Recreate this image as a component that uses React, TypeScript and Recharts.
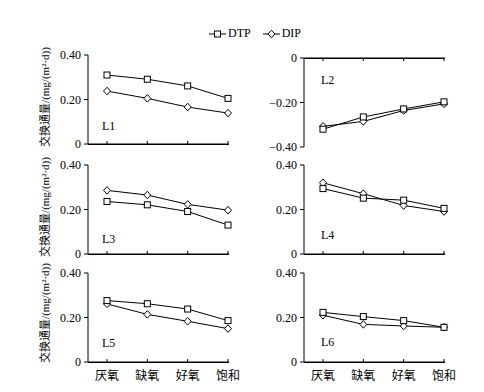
import React from 'react';
import { LineChart, Line, XAxis, YAxis } from 'recharts';

const categories = ['厌氧', '缺氧', '好氧', '饱和'];
const panelNames = ['L1', 'L2', 'L3', 'L4', 'L5', 'L6'];

const dtpL1 = [0.31, 0.291, 0.261, 0.205];
const dipL1 = [0.238, 0.205, 0.166, 0.139];
const dtpL2 = [-0.32, -0.265, -0.229, -0.197];
const dipL2 = [-0.307, -0.285, -0.236, -0.206];
const dtpL3 = [0.236, 0.221, 0.191, 0.13];
const dipL3 = [0.286, 0.265, 0.223, 0.197];
const dtpL4 = [0.294, 0.251, 0.242, 0.205];
const dipL4 = [0.32, 0.271, 0.218, 0.191];
const dtpL5 = [0.276, 0.262, 0.238, 0.186];
const dipL5 = [0.261, 0.214, 0.183, 0.15];
const dtpL6 = [0.223, 0.204, 0.186, 0.156];
const dipL6 = [0.21, 0.169, 0.162, 0.156];

const posTicks = [0, 0.2, 0.4];
const negTicks = [-0.4, -0.2, 0];

const serif = '"Liberation Serif", "Times New Roman", "Noto Sans CJK SC", serif';
const yLabel = '交换通量/(mg/(m²·d))';

const fmt = (v: number) => {
  if (v === 0) return '0';
  const s = Math.abs(v).toFixed(2);
  return v < 0 ? '\u2212' + s : s;
};

const SquareDot = (props: any) => {
  const { cx, cy, index } = props;
  return <rect key={'s' + index} x={cx - 3} y={cy - 3} width={6} height={6} fill="#fff" stroke="#000" strokeWidth={1} />;
};

const DiamondDot = (props: any) => {
  const { cx, cy, index } = props;
  return (
    <path
      key={'d' + index}
      d={`M${cx},${cy - 3.8}L${cx + 3.5},${cy}L${cx},${cy + 3.8}L${cx - 3.5},${cy}Z`}
      fill="#fff"
      stroke="#000"
      strokeWidth={1}
    />
  );
};

// category tick: short inward mark, label only on the bottom row
const CatTick = (props: any) => {
  const { x, y, payload, show, neg } = props;
  const dir = neg ? 1 : -1;
  return (
    <g>
      <line x1={x} y1={y} x2={x} y2={y + dir * 3} stroke="#000" strokeWidth={1} />
      <text x={x} y={y + 18} textAnchor="middle" fill="#000" fontSize={12} fontFamily={serif}>
        {show ? payload.value : '\u00a0'}
      </text>
    </g>
  );
};

interface PanelProps {
  dtp: number[];
  dip: number[];
  left: number;
  plotTop: number;
  negative?: boolean;
  showCats?: boolean;
}

const AXIS_H = 26;

const Panel: React.FC<PanelProps> = ({ dtp, dip, left, plotTop, negative, showCats }) => {
  const data = categories.map((c, i) => ({ cat: c, dtp: dtp[i], dip: dip[i] }));
  const top = negative ? plotTop - AXIS_H : plotTop - 10;
  const height = negative ? AXIS_H + 89 + 12 : 10 + 89 + AXIS_H;
  const axisY = negative ? plotTop : plotTop + 89;
  return (
    <>
      {/* backup for the category axis line, which did not always show up */}
      <div style={{ position: 'absolute', left: left + 88, top: axisY - 0.5, width: 141, height: 1, background: '#000' }} />
      <div style={{ position: 'absolute', left, top, width: 240, height }}>
        <LineChart
          width={240}
          height={height}
          data={data}
          margin={{ top: negative ? 0 : 10, right: 11, left: 0, bottom: negative ? 12 : 0 }}
        >
          <XAxis
            dataKey="cat"
            orientation={negative ? 'top' : 'bottom'}
            height={AXIS_H}
            scale="point"
            padding={{ left: 19, right: 1 }}
            interval={0}
            tickSize={0}
            tickMargin={0}
            axisLine={{ stroke: '#000' }}
            tickLine={false}
            tick={(p: any) => <CatTick key={'c' + p.index} {...p} show={showCats} neg={negative} />}
          />
          <YAxis
            width={88}
            type="number"
            domain={negative ? [-0.4, 0] : [0, 0.4]}
            ticks={negative ? negTicks : posTicks}
            interval={0}
            tickFormatter={fmt}
            tickSize={4}
            tickMargin={3}
            axisLine={{ stroke: '#000' }}
            tickLine={{ stroke: '#000' }}
            tick={{ fill: '#000', fontSize: 12, fontFamily: serif }}
          />
          <Line type="linear" dataKey="dip" stroke="#000" strokeWidth={1} dot={DiamondDot} isAnimationActive={false} />
          <Line type="linear" dataKey="dtp" stroke="#000" strokeWidth={1} dot={SquareDot} isAnimationActive={false} />
        </LineChart>
      </div>
    </>
  );
};

const PanelLabel = ({ text, x, y }: { text: string; x: number; y: number }) => (
  <div style={{ position: 'absolute', left: x, top: y - 8, fontSize: 12, fontFamily: serif, lineHeight: '16px' }}>{text}</div>
);

const AxisTitle = ({ cy }: { cy: number }) => (
  <div
    style={{
      position: 'absolute',
      left: 45,
      top: cy,
      transform: 'translate(-50%, -50%) rotate(-90deg)',
      whiteSpace: 'nowrap',
      fontSize: 11,
      fontFamily: serif,
      lineHeight: '13px',
    }}
  >
    {yLabel}
  </div>
);

const LegendIcon = ({ kind }: { kind: 'square' | 'diamond' }) => (
  <svg width={17} height={10} style={{ display: 'inline-block', verticalAlign: 'middle' }}>
    <line x1={0} y1={5} x2={17} y2={5} stroke="#000" strokeWidth={1} />
    {kind === 'square' ? (
      <rect x={5.5} y={2} width={6} height={6} fill="#fff" stroke="#000" />
    ) : (
      <path d="M8.5,1.2L12,5L8.5,8.8L5,5Z" fill="#fff" stroke="#000" />
    )}
  </svg>
);

export default function App() {
  return (
    <div style={{ position: 'absolute', left: 0, top: 0, width: 484, height: 392, background: '#fff', color: '#000' }}>
      <div style={{ position: 'absolute', left: 209, top: 25, fontSize: 12, fontFamily: serif, lineHeight: '16px', whiteSpace: 'nowrap' }}>
        <LegendIcon kind="square" />
        <span style={{ marginLeft: 2 }}>DTP</span>
        <span style={{ marginLeft: 12 }} />
        <LegendIcon kind="diamond" />
        <span style={{ marginLeft: 2 }}>DIP</span>
      </div>

      <Panel dtp={dtpL1} dip={dipL1} left={0} plotTop={55} />
      <Panel dtp={dtpL2} dip={dipL2} left={216} plotTop={58} negative />
      <Panel dtp={dtpL3} dip={dipL3} left={0} plotTop={165} />
      <Panel dtp={dtpL4} dip={dipL4} left={216} plotTop={165} />
      <Panel dtp={dtpL5} dip={dipL5} left={0} plotTop={273} showCats />
      <Panel dtp={dtpL6} dip={dipL6} left={216} plotTop={273} showCats />

      <PanelLabel text={panelNames[0]} x={102} y={126} />
      <PanelLabel text={panelNames[1]} x={321} y={80} />
      <PanelLabel text={panelNames[2]} x={102} y={239} />
      <PanelLabel text={panelNames[3]} x={321} y={235} />
      <PanelLabel text={panelNames[4]} x={102} y={343} />
      <PanelLabel text={panelNames[5]} x={321} y={342} />

      <AxisTitle cy={97} />
      <AxisTitle cy={207} />
      <AxisTitle cy={313} />
    </div>
  );
}
